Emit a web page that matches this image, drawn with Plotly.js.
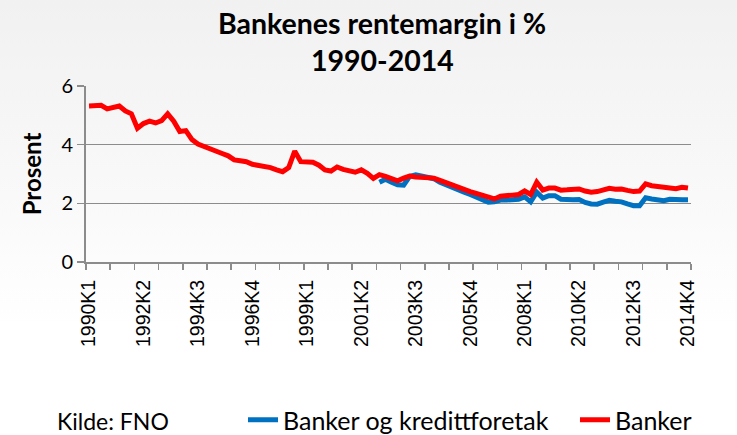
<!DOCTYPE html>
<html>
<head>
<meta charset="utf-8">
<script src="https://cdn.plot.ly/plotly-3.0.1.min.js"></script>
<style>
html,body{margin:0;padding:0;}
body{width:737px;height:435px;background:linear-gradient(to bottom,#f1f1f1 0%,#f9f9f9 45%,#ffffff 75%,#ffffff 100%);}
#chart{width:737px;height:435px;}
</style>
</head>
<body>
<div id="chart"></div>
<script>
const years = [1990,1991,1992,1993,1994,1995,1996,1997,1998,1999,2000,2001,2002,2003,2004,2005,2006,2007,2008,2009,2010,2011,2012,2013,2014];
const quarters = ['K1','K2','K3','K4'];
const categories = [];
years.forEach(y => quarters.forEach(q => categories.push(y + q)));

const tickLabels = ['1990K1','1992K2','1994K3','1996K4','1999K1','2001K2','2003K3','2005K4','2008K1','2010K2','2012K3','2014K4'];

const banker = [
 5.32,5.33,5.34,5.22,5.26,5.32,5.15,5.05,4.56,4.72,
 4.80,4.74,4.82,5.05,4.80,4.45,4.48,4.18,4.02,3.93,
 3.85,3.76,3.70,3.62,3.48,3.45,3.42,3.33,3.30,3.24,
 3.22,3.14,3.08,3.22,3.78,3.42,3.40,3.40,3.30,3.14,
 3.10,3.24,3.16,3.10,3.06,3.14,3.02,2.85,2.98,2.92,
 2.86,2.77,2.86,2.93,2.90,2.89,2.88,2.86,2.78,2.70,
 2.60,2.52,2.46,2.40,2.34,2.28,2.18,2.15,2.24,2.24,
 2.28,2.30,2.42,2.30,2.72,2.45,2.52,2.52,2.45,2.46,
 2.47,2.49,2.42,2.38,2.40,2.46,2.51,2.48,2.49,2.44,
 2.40,2.42,2.66,2.60,2.57,2.53,2.54,2.50,2.55,2.52
];

const bankerKreditt = [
 null,null,null,null,null,null,null,null,null,null,
 null,null,null,null,null,null,null,null,null,null,
 null,null,null,null,null,null,null,null,null,null,
 null,null,null,null,null,null,null,null,null,null,
 null,null,null,null,null,null,null,null,2.72,2.82,
 2.72,2.63,2.62,2.92,2.97,2.93,2.88,2.84,2.72,2.63,
 2.52,2.43,2.38,2.30,2.20,2.14,2.04,2.05,2.11,2.11,
 2.14,2.14,2.22,2.05,2.38,2.18,2.26,2.26,2.14,2.12,
 2.12,2.13,2.03,1.98,1.97,2.04,2.10,2.07,2.05,1.98,
 1.92,1.92,2.19,2.15,2.11,2.09,2.14,2.11,2.12,2.12
];

const idx = categories.map((c, i) => i);
const tickIdx = tickLabels.map(t => categories.indexOf(t));

const traces = [
 {x: idx, y: bankerKreditt, type:'scatter', mode:'lines', name:'Banker og kredittforetak',
  line:{color:'#0070c0', width:5}, connectgaps:false, hoverinfo:'skip', legend:'legend'},
 {x: idx, y: banker, type:'scatter', mode:'lines', name:'Banker',
  line:{color:'#ff0000', width:5}, hoverinfo:'skip', legend:'legend2'}
];

const legendFont = {family:'Lato, sans-serif', size:25, color:'#000'};

const layout = {
 width:737, height:435,
 margin:{l:86, r:46, t:86, b:173},
 paper_bgcolor:'rgba(0,0,0,0)',
 plot_bgcolor:'rgba(0,0,0,0)',
 showlegend:true,
 font:{family:'Lato, sans-serif', color:'#000'},
 xaxis:{
  range:[-0.5, 99.5], showgrid:false, zeroline:false, automargin:false,
  showline:true, linecolor:'#8c8c8c', linewidth:2,
  tickmode:'array', tickvals:tickIdx, ticktext:tickLabels,
  tickangle:-90, ticks:'', ticklabelstandoff:8,
  tickfont:{family:'Liberation Sans, Arial, sans-serif', size:19.5, color:'#000'},
  minor:{tickmode:'linear', tick0:-0.5, dtick:4, ticks:'outside', ticklen:6, tickwidth:1.5, tickcolor:'#8c8c8c', showgrid:false}
 },
 yaxis:{
  range:[0,6], tickvals:[0,2,4,6], ticktext:['0','2','4','6'], automargin:false,
  showgrid:true, gridcolor:'#8c8c8c', gridwidth:1.5, zeroline:false,
  showline:true, linecolor:'#8c8c8c', linewidth:2,
  ticks:'outside', ticklen:7, tickwidth:1.5, tickcolor:'#8c8c8c',
  tickfont:{family:'Lato, sans-serif', size:20, color:'#000'},
  title:{text:'Prosent', font:{family:'Lato, sans-serif', size:24, color:'#000', weight:'bold'}, standoff:13}
 },
 legend:{orientation:'h', xref:'container', yref:'container', x:243/737, xanchor:'left', y:(435-420)/435, yanchor:'middle',
  font:legendFont, bgcolor:'rgba(0,0,0,0)'},
 legend2:{orientation:'h', xref:'container', yref:'container', x:575/737, xanchor:'left', y:(435-420)/435, yanchor:'middle',
  font:legendFont, bgcolor:'rgba(0,0,0,0)'},
 annotations:[
  {text:'<b>Bankenes rentemargin i %</b>', xref:'paper', yref:'paper', x:(382-86)/605, y:(262-23)/176, xanchor:'center', yanchor:'middle', showarrow:false,
   font:{family:'Lato, sans-serif', size:28.5, color:'#000'}},
  {text:'<b>1990-2014</b>', xref:'paper', yref:'paper', x:(382-86)/605, y:(262-60)/176, xanchor:'center', yanchor:'middle', showarrow:false,
   font:{family:'Lato, sans-serif', size:28.5, color:'#000'}},
  {text:'Kilde: FNO', xref:'paper', yref:'paper', x:(55-86)/605, y:(262-421)/176, xanchor:'left', yanchor:'middle', showarrow:false,
   font:{family:'Lato, sans-serif', size:23, color:'#000'}}
 ]
};

Plotly.newPlot('chart', traces, layout, {displayModeBar:false, staticPlot:true});
</script>
</body>
</html>
